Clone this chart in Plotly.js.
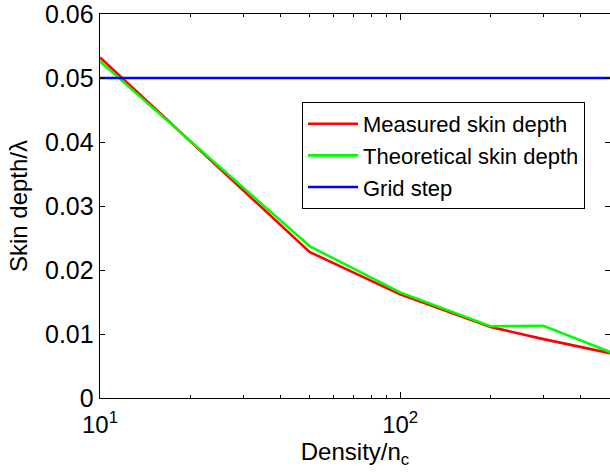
<!DOCTYPE html>
<html>
<head>
<meta charset="utf-8">
<script src="https://cdn.plot.ly/plotly-3.0.1.min.js"></script>
<style>
html,body{margin:0;padding:0;background:#fff;}
#chart{width:610px;height:474px;}
</style>
</head>
<body>
<div id="chart"></div>
<script>
// Data
const density = [10, 50, 100, 200, 300, 500];
const measuredDepth = [0.0532, 0.0228, 0.0162, 0.0111, 0.0092, 0.0070];
const theoreticalDepth = [0.0526, 0.0237, 0.0165, 0.0112, 0.0113, 0.0072];
const gridStepX = [10, 500];
const gridStepY = [0.05, 0.05];
const seriesNames = ['Measured skin depth', 'Theoretical skin depth', 'Grid step'];
const xMajorTicks = [10, 100];
const xMajorLabels = ['10<sup>1</sup>', '10<sup>2</sup>'];
const xMinorTicks = [20, 30, 40, 50, 60, 70, 80, 90, 200, 300, 400];
const yTicks = [0, 0.01, 0.02, 0.03, 0.04, 0.05, 0.06];
const yTickLabels = ['0', '0.01', '0.02', '0.03', '0.04', '0.05', '0.06'];

const FONT = '"Liberation Sans", Arial, Helvetica, sans-serif';

const traces = [
  {x: density, y: measuredDepth, name: seriesNames[0], mode: 'lines',
   line: {color: '#ff0000', width: 2.6}},
  {x: density, y: theoreticalDepth, name: seriesNames[1], mode: 'lines',
   line: {color: '#00ff00', width: 2.6}},
  {x: gridStepX, y: gridStepY, name: seriesNames[2], mode: 'lines',
   line: {color: '#0000ff', width: 2.6}}
];

const layout = {
  width: 610, height: 474,
  margin: {l: 100, r: 0, t: 14, b: 76, pad: 0},
  paper_bgcolor: '#fff', plot_bgcolor: '#fff',
  font: {family: FONT, size: 24, color: '#000'},
  showlegend: true,
  legend: {
    x: (302 - 100) / 510, y: (398 - 102) / 384, xanchor: 'left', yanchor: 'top',
    bgcolor: '#fff', bordercolor: '#000', borderwidth: 1,
    font: {family: FONT, size: 22, color: '#000'},
    traceorder: 'normal', itemwidth: 50, tracegroupgap: 0
  },
  xaxis: {
    type: 'log', range: [1, Math.log10(500)],
    tickmode: 'array', tickvals: xMajorTicks, ticktext: xMajorLabels,
    ticks: 'inside', ticklen: 6, tickwidth: 1, tickcolor: '#000',
    minor: {tickmode: 'array', tickvals: xMinorTicks, ticks: 'inside', ticklen: 3, tickwidth: 1, tickcolor: '#000', showgrid: false},
    showline: true, linecolor: '#000', linewidth: 1.3, mirror: 'ticks',
    showgrid: false, zeroline: false, ticklabelstandoff: 5,
    ticklabeloverflow: 'allow',
    tickfont: {family: FONT, size: 24, color: '#000'},
    title: {text: 'Density/n<sub>c</sub>', font: {family: FONT, size: 24, color: '#000'}, standoff: 1}
  },
  yaxis: {
    range: [0, 0.06],
    tickmode: 'array', tickvals: yTicks, ticktext: yTickLabels,
    ticks: 'inside', ticklen: 5, tickwidth: 1, tickcolor: '#000',
    showline: true, linecolor: '#000', linewidth: 1.3, mirror: 'ticks',
    showgrid: false, zeroline: false, ticklabeloverflow: 'allow',
    tickfont: {family: FONT, size: 25, color: '#000'},
    title: {text: 'Skin depth/λ', font: {family: FONT, size: 24, color: '#000'}, standoff: 10}
  }
};

Plotly.newPlot('chart', traces, layout, {displayModeBar: false, staticPlot: true});
</script>
</body>
</html>
